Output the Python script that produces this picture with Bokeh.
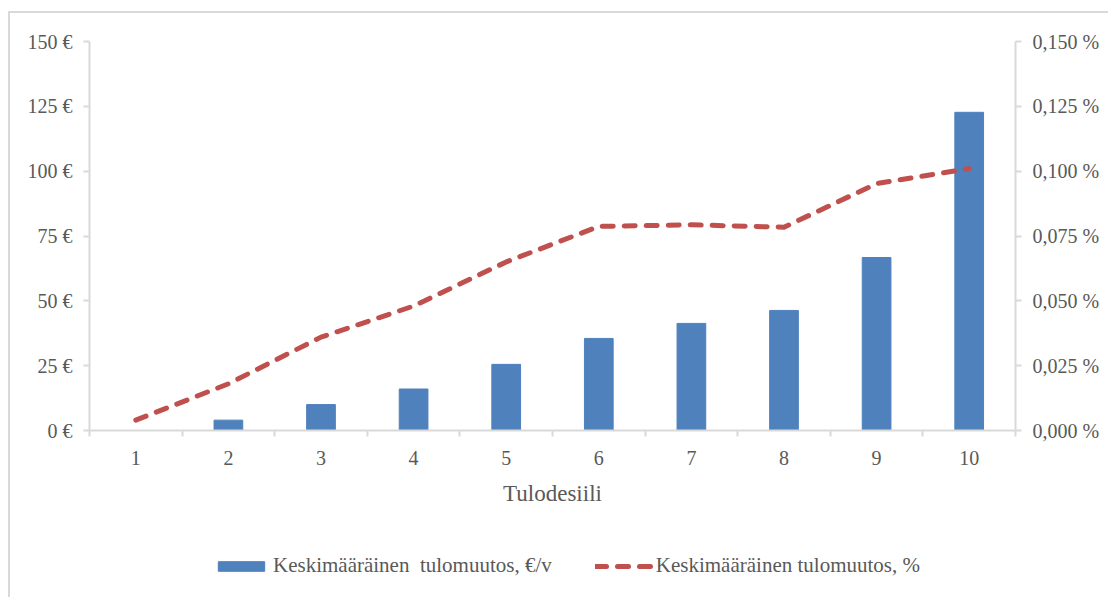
from bokeh.plotting import figure
from bokeh.layouts import column
from bokeh.models import (LinearAxis, Range1d, FixedTicker, CustomJSTickFormatter,
                          Legend, LegendItem, ColumnDataSource)
from bokeh.embed import file_html
from bokeh.resources import INLINE

# Income deciles and the average change in income per decile
deciles = [1, 2, 3, 4, 5, 6, 7, 8, 9, 10]
eur_change = [0, 4, 10, 16, 25.5, 35.5, 41.3, 46.3, 66.7, 122.7]          # €/year
pct_change = [0.004, 0.018, 0.036, 0.048, 0.065, 0.0787, 0.0793, 0.0784, 0.0952, 0.101]  # %

eur_ticks = [0, 25, 50, 75, 100, 125, 150]
pct_ticks = [0.0, 0.025, 0.05, 0.075, 0.1, 0.125, 0.15]

x_title = "Tulodesiili"
bar_label = "Keskimääräinen  tulomuutos, €/v"
line_label = "Keskimääräinen tulomuutos, %"

FONT = "Liberation Serif"
TEXT = "#595959"
AXIS = "#d9d9d9"
BLUE = "#4f81bd"
RED = "#c0504d"

BAR_STYLE = dict(fill_color=BLUE, line_color=BLUE)
LINE_STYLE = dict(line_color=RED, line_width=5, line_dash="11 11",
                  line_cap="round", line_join="round")

source = ColumnDataSource(data=dict(decile=deciles, eur=eur_change, pct=pct_change))

p = figure(width=1098, height=507, output_backend="svg", toolbar_location=None,
           x_range=Range1d(0.5, 10.5), y_range=Range1d(0, 150),
           min_border_left=79, min_border_right=93, min_border_top=28, min_border_bottom=90,
           outline_line_color=None, background_fill_color="white", border_fill_color="white")
p.extra_y_ranges = {"pct": Range1d(0, 0.15)}
p.grid.visible = False

p.vbar(x="decile", top="eur", width=0.31, source=source, **BAR_STYLE)
p.line(x="decile", y="pct", y_range_name="pct", source=source, **LINE_STYLE)

# bottom category axis: labels at centres, tick marks between categories
xa = p.xaxis[0]
xa.ticker = FixedTicker(ticks=deciles, minor_ticks=[d - 0.5 for d in deciles] + [10.5])
xa.major_tick_line_color = None
xa.minor_tick_line_color = AXIS
xa.minor_tick_line_width = 2
xa.minor_tick_in = 0
xa.minor_tick_out = 6
xa.axis_line_color = AXIS
xa.axis_line_width = 2
xa.major_label_standoff = 14
xa.axis_label = x_title
xa.axis_label_standoff = 13
xa.axis_label_text_font = FONT
xa.axis_label_text_font_style = "normal"
xa.axis_label_text_font_size = "23px"
xa.axis_label_text_color = TEXT

# left axis in euros
ya = p.yaxis[0]
ya.ticker = FixedTicker(ticks=eur_ticks, minor_ticks=[])
ya.formatter = CustomJSTickFormatter(code="return tick.toFixed(0) + ' €';")

# right axis in percent
yr = LinearAxis(y_range_name="pct", ticker=FixedTicker(ticks=pct_ticks, minor_ticks=[]),
                formatter=CustomJSTickFormatter(code="return tick.toFixed(3).replace('.', ',') + ' %';"))
p.add_layout(yr, "right")

for ax in (ya, yr):
    ax.axis_line_color = AXIS
    ax.axis_line_width = 2
    ax.major_tick_line_color = AXIS
    ax.major_tick_line_width = 2
    ax.major_tick_in = 0
    ax.major_tick_out = 6
    ax.minor_tick_line_color = None
    ax.major_label_standoff = 11

for ax in (xa, ya, yr):
    ax.major_label_text_font = FONT
    ax.major_label_text_font_size = "20px"
    ax.major_label_text_color = TEXT

# legend strip underneath the chart; its key renderers share the series source
# but are hidden, so only the legend keys are drawn
leg = figure(width=1098, height=77, output_backend="svg", toolbar_location=None,
             x_range=Range1d(0.5, 10.5), y_range=Range1d(0, 1),
             min_border_left=79, min_border_right=93, min_border_top=0, min_border_bottom=0,
             outline_line_color=None, x_axis_type=None, y_axis_type=None,
             background_fill_color="white", border_fill_color="white")
leg.grid.visible = False
key_bar = leg.vbar(x="decile", top="eur", width=0.31, source=source, visible=False, **BAR_STYLE)
key_line = leg.line(x="decile", y="pct", source=source, visible=False, **LINE_STYLE)

legend = Legend(items=[LegendItem(label=bar_label, renderers=[key_bar]),
                       LegendItem(label=line_label, renderers=[key_line])],
                orientation="horizontal", location=(123, 19), click_policy="none",
                glyph_width=58, glyph_height=12, label_standoff=3, spacing=43,
                padding=0, margin=0, border_line_color=None, background_fill_alpha=0,
                label_text_font=FONT, label_text_font_size="21px", label_text_color=TEXT)
leg.add_layout(legend, "center")

# light frame around the whole chart; its right and bottom edges fall off the page
page = column(p, leg, spacing=0,
              styles={"margin-left": "8px", "margin-top": "11px",
                      "border-left": "2px solid #d9d9d9", "border-top": "2px solid #d9d9d9"})

open("out.html", "w").write(file_html(page, INLINE))
